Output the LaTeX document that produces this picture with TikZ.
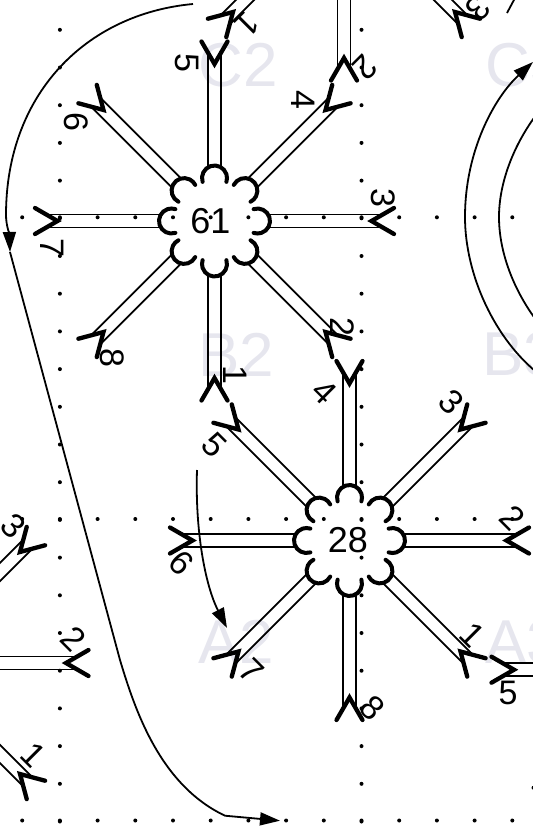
\documentclass[tikz,border=0pt]{standalone}
\usepackage{fontspec}
\setmainfont{Liberation Sans}
\usetikzlibrary{arrows.meta}
\definecolor{water}{HTML}{E6E6EE}
\tikzset{
  wire/.style={line width=1.8pt,black},
  vee/.style={line width=4.3pt,black,line cap=round,miter limit=10},
  petal/.style={line width=4pt,black,line cap=round},
  curve/.style={line width=1.8pt,black},
  griddot/.style={fill=black,draw=none},
  mark text/.style={text=water,inner sep=0pt,font=\fontsize{62}{62}\selectfont},
  hub/.style={inner sep=0pt,font=\fontsize{36}{36}\selectfont},
  pin/.style={inner sep=0pt,font=\fontsize{34}{34}\selectfont},
  head/.style={-{Triangle[length=20pt,width=13pt]}}
}
\newcommand{\branchat}[3]{%
  \begin{scope}[shift={(#1,#2)},rotate=#3]
    \draw[wire] (53,-6.5) -- (166,-6.5);
    \draw[wire] (53,6.5) -- (166,6.5);
    \draw[vee] (179.5,-13) -- (157,0) -- (179.5,13);
  \end{scope}}
\newcommand{\flower}[2]{%
  \foreach \a in {0,45,...,315}{
    \begin{scope}[shift={(#1,#2)},rotate=\a]
      \draw[petal] (43,0) ++(252:12.5) arc[start angle=252,end angle=468,radius=12.5];
    \end{scope}}}
\begin{document}
\begin{tikzpicture}[x=1pt,y=-1pt]
\clip (0,0) rectangle (533,828);
% watermarks
\node[mark text] (wc2) at (238,65.5) {C2};
\node[mark text] (wb2) at (236,354.5) {B2};
\node[mark text] (wa2) at (236,642) {A2};
\node[mark text] (wc3) at (525,65.5) {C3};
\node[mark text] (wb3) at (520,354.5) {B3};
\node[mark text] (wa3) at (523,642) {A3};
% dots
\foreach \k in {0,...,21}{
  \pgfmathsetmacro\yy{29.8+37.7*\k}
  \fill[griddot] (59.9,\yy) circle (2);
  \fill[griddot] (361.5,\yy) circle (2);
}
\foreach \k in {0,...,13}{
  \pgfmathsetmacro\xx{22.2+37.7*\k}
  \fill[griddot] (\xx,217.3) circle (2);
  \fill[griddot] (\xx,519) circle (2);
  \fill[griddot] (\xx,820.5) circle (2);
}
\fill[griddot] (533.5,787.7) circle (2);
% node 61
\flower{214.5}{221}
\node[hub] (n61) at (210.5,221) {61};
\foreach \t in {90,45,0,-45,-90,-135,180,135}{\branchat{214.5}{221}{\t}}
% node 28
\flower{349.5}{540.5}
\node[hub] (n28) at (348,540.5) {28};
\foreach \t in {90,45,0,-45,-90,-135,180,135}{\branchat{349.5}{540.5}{\t}}
% partial nodes
\foreach \t in {45,0,-45}{\branchat{-91}{663}{\t}}
\branchat{671}{669.7}{180}
\foreach \t in {-45,-90,-135}{\branchat{344}{-99}{\t}}
% labels of 61
\node[pin,rotate=-90] (a1) at (235,375) {1};
\node[pin,rotate=-90] (a2) at (342,327) {2};
\node[pin,rotate=-90] (a3) at (383,198) {3};
\node[pin,rotate=-90] (a4) at (303,100) {4};
\node[pin,rotate=-90] (a5) at (187,63) {5};
\node[pin,rotate=-90] (a6) at (76,122) {6};
\node[pin,rotate=-90] (a7) at (52,248) {7};
\node[pin,rotate=-90] (a8) at (112,358) {8};
% labels of 28
\node[pin,rotate=-45] (b1) at (472,635) {1};
\node[pin,rotate=-45] (b2) at (513,518) {2};
\node[pin,rotate=-45] (b3) at (451,402) {3};
\node[pin,rotate=-45] (b4) at (324,392) {4};
\node[pin,rotate=-45] (b5) at (214,445) {5};
\node[pin,rotate=-45] (b6) at (181,563) {6};
\node[pin,rotate=-45] (b7) at (251,671) {7};
\node[pin,rotate=-45] (b8) at (372,708) {8};
% other labels
\node[pin,rotate=-45] (c1) at (33,755) {1};
\node[pin,rotate=-45] (c2) at (74,639) {2};
\node[pin,rotate=-45] (c3) at (13,526) {3};
\node[pin] (d5) at (508,693) {5};
\node[pin,rotate=-135] (e1) at (247,24) {1};
\node[pin,rotate=-135] (e2) at (365,68) {2};
\node[pin,rotate=-135] (e3) at (478,8) {3};
% curves
\coordinate (p0) at (193,4);
\coordinate (p1) at (6,215);
\coordinate (p2) at (10,252);
\coordinate (p3) at (120,660);
\coordinate (p4) at (225,815.7);
\coordinate (p5) at (280,820.7);
\draw[curve,head] (p0) .. controls (85,14) and (6,95) .. (p1) .. controls (6,225) and (9.5,235) .. (p2);
\draw[curve,head] (p2) -- (p3) .. controls (135,710) and (160,785) .. (p4) -- (p5);
\coordinate (q0) at (197,470);
\coordinate (q1) at (227,628);
\draw[curve,head] (q0) .. controls (195,530) and (205,585) .. (q1);
\coordinate (r0) at (540,375);
\coordinate (r1) at (465,217);
\coordinate (r2) at (533,62);
\draw[curve,head] (r0) .. controls (495,340) and (465,275) .. (r1) .. controls (465,150) and (495,97) .. (r2);
\coordinate (s0) at (540,325);
\coordinate (s1) at (499,217);
\coordinate (s2) at (540,110);
\draw[curve] (s0) .. controls (516,295) and (499,255) .. (s1) .. controls (499,180) and (516,140) .. (s2);
\coordinate (t0) at (507,13);
\coordinate (t1) at (515,-2);
\draw[curve] (t0) -- (t1);
\end{tikzpicture}
\end{document}
